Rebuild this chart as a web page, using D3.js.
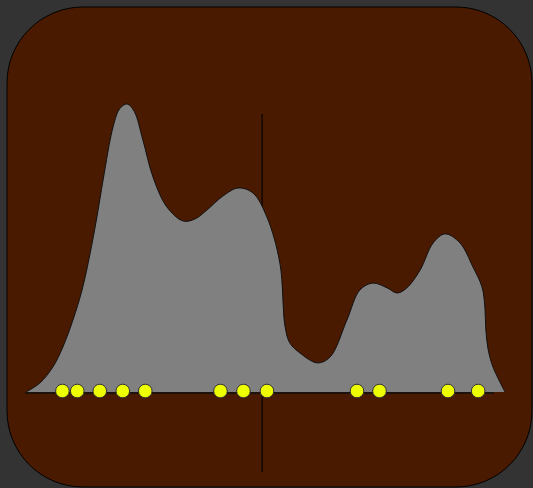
<!DOCTYPE html>
<html>
<head>
<meta charset="utf-8">
<script src="https://cdn.jsdelivr.net/npm/d3@7"></script>
<style>
  html, body { margin: 0; padding: 0; background: #333333; }
  svg { display: block; }
</style>
</head>
<body>
<svg id="chart" width="533" height="488"></svg>
<script>
// Density outline (x position, density height)
const densityX = [0, 2.9, 5.6, 7.7, 9.8, 11.7, 13.4, 14.8, 16.1, 18.2, 19.6, 21.1, 22.6, 24.4, 26.5, 29.4, 32.8, 35.3, 37.8, 41.1, 44.3, 47.4, 50.3, 53.0, 54.1, 55.1, 57.2, 60.8, 63.5, 67.0, 69.7, 72.4, 75.4, 77.5, 79.5, 82.3, 85.0, 87.5, 90.6, 93.3, 95.2, 95.8, 96.0, 96.5, 97.5, 100];
const densityY = [0, 3, 8.3, 15, 24, 34, 46.3, 58.3, 70.7, 88.5, 94.5, 96, 93.5, 84, 71.7, 61.7, 57, 57.7, 60.7, 65.3, 68, 66.3, 58.3, 43, 21.7, 16.3, 13, 9.7, 11.7, 24, 34, 36.3, 34.7, 33, 34.7, 40.7, 49.7, 52.7, 49.7, 41.7, 35, 28.3, 20.7, 14, 8.3, 0];

// Individual observations shown along the baseline
const observations = [7.6, 10.7, 15.4, 20.2, 24.9, 40.6, 45.4, 50.3, 69.1, 73.8, 88.1, 94.4];

// Reference marker position and its vertical extent
const markerX = 49.3;
const markerSpan = [-26.7, 92.7];

// Extent of the baseline rule
const baselineSpan = [-0.2, 97.7];

const svg = d3.select("#chart");

const x = d3.scaleLinear().domain([0, 100]).range([26, 505]);
const y = d3.scaleLinear().domain([0, 100]).range([392, 92]);

// Panel
svg.append("rect")
  .attr("x", 7).attr("y", 7)
  .attr("width", 525).attr("height", 480)
  .attr("rx", 76).attr("ry", 76)
  .attr("fill", "#4a1a00")
  .attr("stroke", "#000")
  .attr("stroke-width", 1);

// Vertical marker (sits behind the density)
svg.append("line")
  .attr("x1", x(markerX)).attr("x2", x(markerX))
  .attr("y1", y(markerSpan[1])).attr("y2", y(markerSpan[0]))
  .attr("stroke", "#000")
  .attr("stroke-opacity", 0.75)
  .attr("stroke-width", 1.5);

// Density area
const pts = densityX.map((d, i) => [d, densityY[i]]);
const curve = d3.curveCatmullRom.alpha(0.5);
const area = d3.area()
  .x(d => x(d[0]))
  .y0(y(0))
  .y1(d => y(d[1]))
  .curve(curve);
const line = d3.line()
  .x(d => x(d[0]))
  .y(d => y(d[1]))
  .curve(curve);

svg.append("path")
  .attr("d", area(pts))
  .attr("fill", "#808080");
svg.append("path")
  .attr("d", line(pts))
  .attr("fill", "none")
  .attr("stroke", "#111")
  .attr("stroke-width", 1);

// Baseline rule
svg.append("line")
  .attr("x1", x(baselineSpan[0])).attr("x2", x(baselineSpan[1]))
  .attr("y1", y(0) + 1).attr("y2", y(0) + 1)
  .attr("stroke", "#111")
  .attr("stroke-width", 1.5);

// Observation dots
svg.append("g")
  .selectAll("circle")
  .data(observations)
  .join("circle")
  .attr("cx", d => x(d))
  .attr("cy", y(0) - 1)
  .attr("r", 6.8)
  .attr("fill", "#eeff00")
  .attr("stroke", "#333")
  .attr("stroke-width", 1);
</script>
</body>
</html>
